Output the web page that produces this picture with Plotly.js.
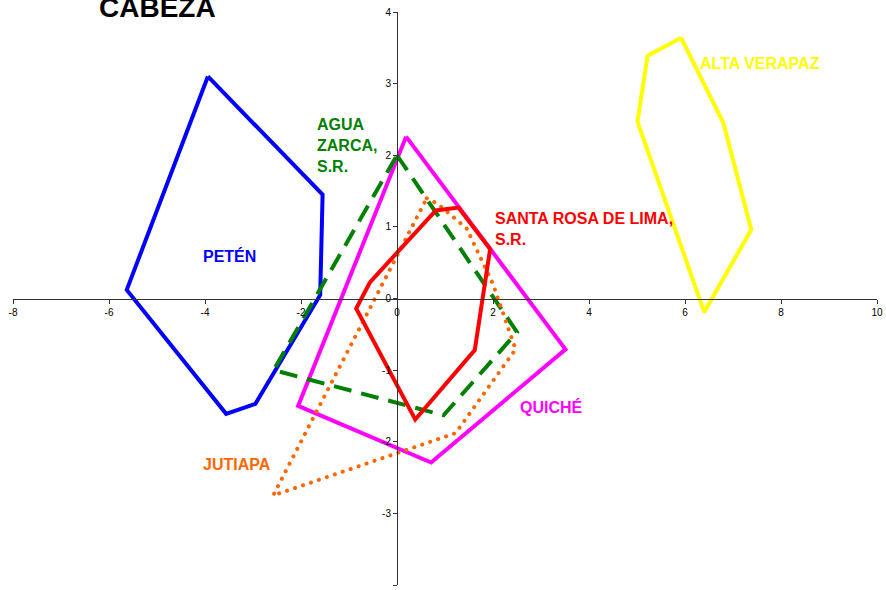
<!DOCTYPE html>
<html>
<head>
<meta charset="utf-8">
<script src="https://cdn.plot.ly/plotly-3.0.1.min.js"></script>
<style>
  html, body { margin: 0; padding: 0; background: #fff; }
  #chart { width: 886px; height: 590px; }
</style>
</head>
<body>
<div id="chart"></div>
<script>
// polygon outlines, closed by repeating the first vertex
const petenX = [-3.94, -1.55, -1.60, -2.95, -3.56, -5.63, -3.94];
const petenY = [3.10, 1.45, 0.05, -1.47, -1.61, 0.12, 3.10];

const altaX = [5.92, 5.22, 5.01, 6.40, 7.38, 6.80, 5.92];
const altaY = [3.64, 3.39, 2.47, -0.19, 0.96, 2.45, 3.64];

const quicheX = [0.19, 3.51, 0.71, -2.06, 0.19];
const quicheY = [2.26, -0.71, -2.29, -1.50, 2.26];

const aguaX = [0.0, 2.50, 0.97, -2.57, 0.0];
const aguaY = [2.00, -0.47, -1.63, -1.00, 2.00];

const jutiapaX = [0.62, 0.85, 1.45, 2.00, 2.47, 1.22, -2.58, 0.62];
const jutiapaY = [1.40, 1.32, 0.98, 0.20, -0.71, -1.88, -2.75, 1.40];

const santaRosaX = [-0.56, 0.81, 1.28, 1.94, 1.62, 0.38, -0.85, -0.56];
const santaRosaY = [0.23, 1.23, 1.27, 0.69, -0.72, -1.69, -0.14, 0.23];

// tick labels use a plain hyphen like the original
const xTicks = [-8, -6, -4, -2, 0, 2, 4, 6, 8, 10];
const xTickText = ['-8', '-6', '-4', '-2', '0', '2', '4', '6', '8', '10'];
const yTicks = [-4, -3, -2, -1, 0, 1, 2, 3, 4];
const yTickText = ['-4', '-3', '-2', '-1', '0', '1', '2', '3', '4'];

const font = 'Liberation Sans, Arial, sans-serif';

const outline = (x, y, color, dash) => ({
    x: x,
    y: y,
    type: 'scatter',
    mode: 'lines',
    line: { color: color, width: 4, dash: dash || 'solid' },
    hoverinfo: 'skip',
    showlegend: false,
});

const traces = [
    outline(petenX, petenY, '#0000FF'),
    outline(altaX, altaY, '#FFFF00'),
    outline(quicheX, quicheY, '#FF00FF'),
    outline(aguaX, aguaY, '#008000', '18px,10px'),
    outline(jutiapaX, jutiapaY, '#FF6600', '0.1px,8.3px'),
    outline(santaRosaX, santaRosaY, '#FF0000'),
];

const label = (text, x, y, color, xanchor) => ({
    text: text,
    x: x,
    y: y,
    xref: 'x',
    yref: 'y',
    xanchor: xanchor || 'left',
    yanchor: 'middle',
    align: 'left',
    showarrow: false,
    font: { family: font, size: 16, color: color, weight: 'bold' },
});

const axisStyle = {
    showgrid: false,
    zeroline: false,
    showline: true,
    linecolor: '#333',
    linewidth: 1,
    ticks: 'outside',
    ticklen: 4,
    tickcolor: '#333',
    anchor: 'free',
    tickmode: 'array',
    tickfont: { size: 10, color: '#000' },
};

const layout = {
    width: 886,
    height: 590,
    margin: { l: 13, r: 9, t: 12, b: 5 },
    paper_bgcolor: '#fff',
    plot_bgcolor: '#fff',
    showlegend: false,
    font: { family: font, size: 10, color: '#000' },
    xaxis: Object.assign({}, axisStyle, {
        range: [-8, 10],
        tickvals: xTicks,
        ticktext: xTickText,
        position: 0.5,
    }),
    yaxis: Object.assign({}, axisStyle, {
        range: [-4, 4],
        tickvals: yTicks,
        ticktext: yTickText,
        position: 8 / 18,
    }),
    annotations: [
        {
            text: 'CABEZA',
            xref: 'paper', yref: 'paper',
            x: 144.5 / 864, y: 1,
            xanchor: 'center', yanchor: 'middle',
            yshift: 5,
            showarrow: false,
            font: { family: font, size: 28, color: '#000', weight: 'bold' },
        },
        label('AGUA<br>ZARCA,<br>S.R.', -1.71, 2.14, '#008000'),
        label('PETÉN', -3.49, 0.6, '#0000FF', 'center'),
        label('SANTA ROSA DE LIMA,<br>S.R.', 2.0, 0.97, '#FF0000'),
        label('ALTA VERAPAZ', 6.27, 3.28, '#FFFF00'),
        label('QUICHÉ', 2.52, -1.52, '#FF00FF'),
        label('JUTIAPA', -4.09, -2.32, '#FF6600'),
    ],
};

Plotly.newPlot('chart', traces, layout, { displayModeBar: false, staticPlot: true }).then(() => {
    // round caps so the dotted outline draws round dots
    const lines = document.querySelectorAll('.scatterlayer .trace .js-line');
    if (lines[4]) lines[4].style.strokeLinecap = 'round';
});
</script>
</body>
</html>
